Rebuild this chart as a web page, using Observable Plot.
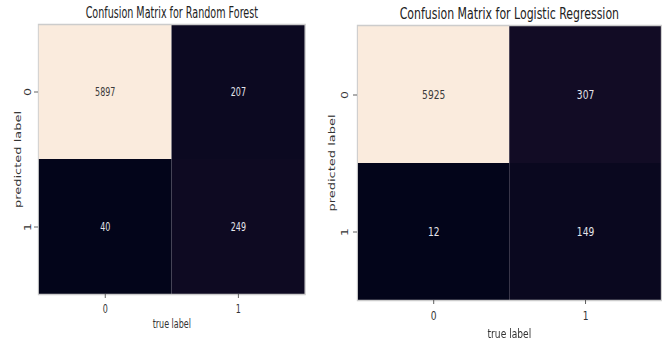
<!DOCTYPE html>
<html>
<head>
<meta charset="utf-8">
<script src="https://cdn.jsdelivr.net/npm/d3@7"></script>
<script src="https://cdn.jsdelivr.net/npm/@observablehq/plot@0.6"></script>
<style>
  html, body { margin: 0; padding: 0; background: #fff; overflow: hidden; }
  #figure { position: relative; width: 669px; height: 340px; background: #fff; filter: blur(0.35px); }
  #figure svg { position: absolute; top: 0; }
</style>
</head>
<body>
<div id="figure"></div>
<script>
// Class labels shared by both matrices
const trueLabels = ["0", "1"];
const predictedLabels = ["0", "1"];

// Counts, one row per predicted label, one column per true label
const randomForestRow0 = [5897, 207];
const randomForestRow1 = [40, 249];
const logisticRow0 = [5925, 307];
const logisticRow1 = [12, 149];

const titles = ["Confusion Matrix for Random Forest", "Confusion Matrix for Logistic Regression"];

// Seaborn "rocket" colormap, sampled at tenths
const rocketStops = ["#03051a", "#221331", "#451c47", "#6a1f56", "#921c5b", "#b91657",
                     "#dd2c45", "#f06043", "#f5936a", "#f6c19f", "#faebdd"];
const rocket = d3.piecewise(d3.interpolateRgb, rocketStops);

function matrixRows(rows) {
  return predictedLabels.flatMap((p, i) =>
    trueLabels.map((t, j) => ({predicted: p, actual: t, count: rows[i][j]})));
}

// Each panel is drawn at its natural proportions, then squeezed horizontally
function confusionPanel(title, rows, box) {
  const data = matrixRows(rows);
  const [lo, hi] = d3.extent(data, d => d.count);
  const mid = (lo + hi) / 2;
  const s = box.squeeze;
  const H = 340;
  const svg = Plot.plot({
    width: box.width / s,
    height: H,
    marginLeft: box.left / s,
    marginRight: (box.width - box.right) / s,
    marginTop: box.top,
    marginBottom: H - box.bottom,
    style: {fontFamily: "DejaVu Sans", fontSize: "12px", color: "#333", background: "white", overflow: "visible"},
    x: {type: "band", domain: trueLabels, padding: 0},
    y: {type: "band", domain: predictedLabels, padding: 0},
    color: {type: "linear", domain: [lo, hi], interpolate: rocket},
    marks: [
      Plot.cell(data, {x: "actual", y: "predicted", fill: "count", inset: 0}),
      Plot.text(data.filter(d => d.count > mid), {x: "actual", y: "predicted", text: d => String(d.count), fill: "#3a3a3a", fontSize: 12.5}),
      Plot.text(data.filter(d => d.count <= mid), {x: "actual", y: "predicted", text: d => String(d.count), fill: "#e4e4ea", fontSize: 12.5}),
      Plot.frame({stroke: "#cccccc", strokeWidth: 1.5}),
      Plot.axisX({anchor: "bottom", tickSize: 4, fill: "none", stroke: "#444", label: null}),
      Plot.axisY({anchor: "left", tickSize: 4 / s, fill: "none", stroke: "#444", label: null}),
      Plot.text(trueLabels, {x: d => d, frameAnchor: "bottom", dy: box.xTick, lineAnchor: "middle", fill: "#333", fontSize: 12.5}),
      Plot.text(predictedLabels, {y: d => d, frameAnchor: "left", dx: -box.yTick / s, rotate: -90, textAnchor: "middle", lineAnchor: "middle", fill: "#333", fontSize: 12.5}),
      Plot.text(["true label"], {frameAnchor: "bottom", dy: box.xLabel, lineAnchor: "middle", fill: "#333", fontSize: 12.5}),
      Plot.text(["predicted label"], {frameAnchor: "left", dx: -box.yLabel / s, rotate: -90, textAnchor: "middle", lineAnchor: "middle", fill: "#333", fontSize: 13}),
      Plot.text([title], {frameAnchor: "top", dy: -box.titleGap, lineAnchor: "middle", fill: "#222", fontSize: 15})
    ]
  });
  svg.setAttribute("width", box.width);
  svg.setAttribute("height", H);
  svg.setAttribute("preserveAspectRatio", "none");
  svg.style.left = box.x + "px";
  svg.style.width = box.width + "px";
  svg.style.height = H + "px";
  svg.style.maxWidth = "none";
  return svg;
}

const figure = document.getElementById("figure");
figure.append(
  confusionPanel(titles[0], [randomForestRow0, randomForestRow1],
    {x: 0, width: 318, squeeze: 0.64, left: 38, right: 305, top: 24, bottom: 294,
     xTick: 14, xLabel: 29, yTick: 10, yLabel: 20, titleGap: 11}),
  confusionPanel(titles[1], [logisticRow0, logisticRow1],
    {x: 318, width: 351, squeeze: 0.73, left: 39, right: 343, top: 25, bottom: 300,
     xTick: 15, xLabel: 33, yTick: 12, yLabel: 25.5, titleGap: 11})
);
</script>
</body>
</html>
